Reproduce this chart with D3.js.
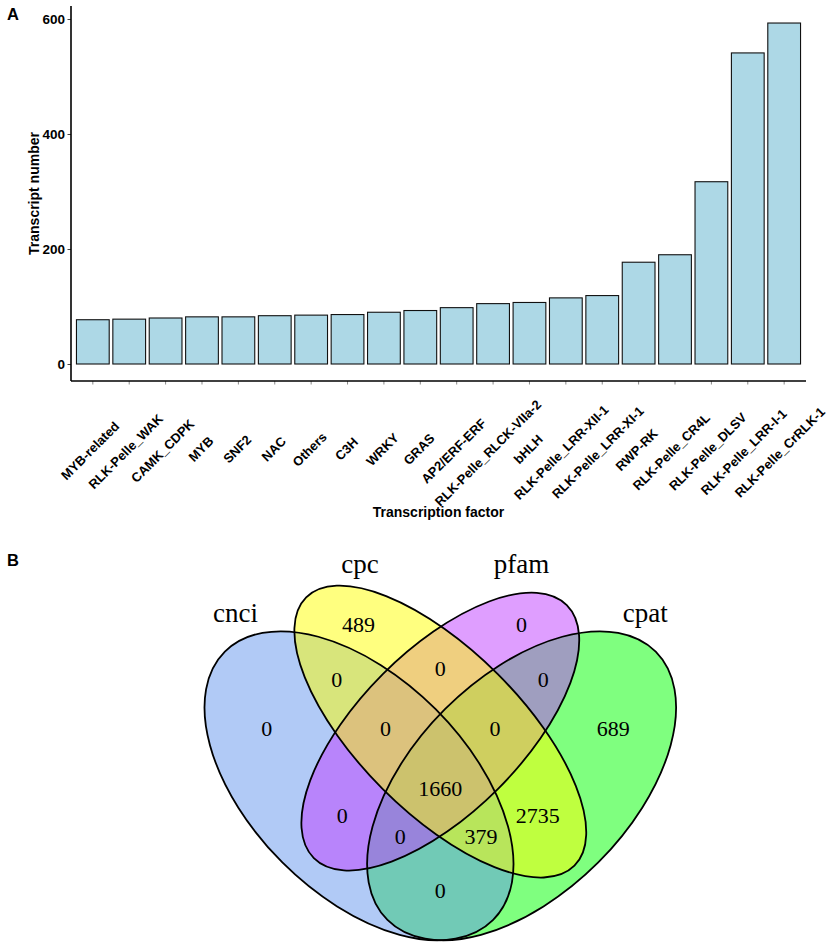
<!DOCTYPE html>
<html>
<head>
<meta charset="utf-8">
<script src="https://d3js.org/d3.v7.min.js"></script>
<style>
    body { margin: 0; background: #fff; }
    .sans { font-family: "Liberation Sans", Arial, sans-serif; font-weight: bold; }
    .serif { font-family: "Liberation Serif", "Times New Roman", serif; }
</style>
</head>
<body>
<div id="chart"></div>
<script>
// Panel A data
const factors = ["MYB-related", "RLK-Pelle_WAK", "CAMK_CDPK", "MYB", "SNF2", "NAC", "Others", "C3H",
    "WRKY", "GRAS", "AP2/ERF-ERF", "RLK-Pelle_RLCK-VIIa-2", "bHLH", "RLK-Pelle_LRR-XII-1",
    "RLK-Pelle_LRR-XI-1", "RWP-RK", "RLK-Pelle_CR4L", "RLK-Pelle_DLSV", "RLK-Pelle_LRR-I-1", "RLK-Pelle_CrRLK-1"];
const counts = [77, 78, 80, 82, 82, 84, 85, 86, 90, 93, 98, 105, 107, 115, 119, 177, 190, 317, 541, 593];
const yTicks = [0, 200, 400, 600];

// Panel B data
const setNames = ["cnci", "cpc", "pfam", "cpat"];
const setColors = ["cornflowerblue", "yellow", "#BF3EFF", "#00FF00"];
// region counts, keyed by membership (cnci, cpc, pfam, cpat)
const regionKeys = ["1000", "0100", "0010", "0001", "1100", "0110", "0011", "1110", "0111",
    "1111", "1010", "0101", "1011", "1101", "1001"];
const regionCounts = [0, 489, 0, 689, 0, 0, 0, 0, 0, 1660, 0, 2735, 0, 379, 0];

// Venn layout (unit square, like VennDiagram's quad layout)
const ellipses = [
    { x: 0.35, y: 0.47, a: 0.35, b: 0.20, rot: 45 },
    { x: 0.50, y: 0.57, a: 0.35, b: 0.15, rot: 45 },
    { x: 0.50, y: 0.57, a: 0.33, b: 0.15, rot: -45 },
    { x: 0.65, y: 0.47, a: 0.35, b: 0.20, rot: -45 }
];
const drawOrder = [3, 0, 2, 1];
const regionPos = [[0.18, 0.576], [0.349, 0.767], [0.650, 0.767], [0.819, 0.576], [0.309, 0.666],
    [0.5, 0.687], [0.69, 0.666], [0.399, 0.576], [0.601, 0.576], [0.5, 0.465], [0.319, 0.416],
    [0.68, 0.416], [0.426, 0.376], [0.575, 0.376], [0.5, 0.276]];
const namePos = [[0.122, 0.773], [0.352, 0.863], [0.65, 0.863], [0.878, 0.773]];

const W = 829, H = 946;
const svg = d3.select("#chart").append("svg")
    .attr("width", W).attr("height", H);
svg.append("rect").attr("width", W).attr("height", H).attr("fill", "#fff");

// ---------- Panel A ----------
const left = 71, right = 806, axisY = 381;
const x = d3.scaleBand()
    .domain(factors)
    .range([left, right])
    .paddingInner(0.1)
    .paddingOuter(0.15);
const y = d3.scaleLinear().domain([0, 600]).range([364, 19]);

svg.append("g")
    .selectAll("rect")
    .data(counts)
    .enter().append("rect")
    .attr("x", (d, i) => x(factors[i]))
    .attr("y", d => y(d))
    .attr("width", x.bandwidth())
    .attr("height", d => y(0) - y(d))
    .attr("fill", "#ADD8E6")
    .attr("stroke", "#111")
    .attr("stroke-width", 1.1);

// y axis
const yAxis = svg.append("g")
    .attr("class", "sans")
    .attr("transform", `translate(${left},0)`)
    .call(d3.axisLeft(y).tickValues(yTicks).tickSize(3.5).tickPadding(2.5));
yAxis.select(".domain").remove();
yAxis.selectAll(".tick line").attr("stroke", "#444");
yAxis.selectAll(".tick text").attr("font-size", 13.5).attr("fill", "#000");
svg.append("line")
    .attr("x1", left).attr("x2", left)
    .attr("y1", y(622.6)).attr("y2", y(-29.6))
    .attr("stroke", "#000").attr("stroke-width", 1.6);

// x axis
const xAxis = svg.append("g")
    .attr("transform", `translate(0,${axisY})`)
    .call(d3.axisBottom(x).tickSize(3.5).tickFormat(""));
xAxis.select(".domain").remove();
xAxis.selectAll(".tick line").attr("stroke", "#888");
svg.append("line")
    .attr("x1", left).attr("x2", right)
    .attr("y1", axisY).attr("y2", axisY)
    .attr("stroke", "#000").attr("stroke-width", 1.4);

// rotated category labels, centred a little toward their start
svg.append("g")
    .attr("class", "sans")
    .selectAll("text")
    .data(factors)
    .enter().append("text")
    .attr("transform", d => `translate(${x(d) + x.bandwidth() / 2},448) rotate(-45)`)
    .attr("text-anchor", "middle")
    .attr("dominant-baseline", "central")
    .attr("font-size", 13)
    .text(d => d)
    .attr("dx", function() { return -0.05 * this.getComputedTextLength(); });

svg.append("text")
    .attr("class", "sans")
    .attr("x", (left + right) / 2)
    .attr("y", 517)
    .attr("text-anchor", "middle")
    .attr("font-size", 14)
    .text("Transcription factor");

svg.append("text")
    .attr("class", "sans")
    .attr("transform", `translate(38.5,${(y(622.6) + y(-29.6)) / 2}) rotate(-90)`)
    .attr("text-anchor", "middle")
    .attr("font-size", 14)
    .text("Transcript number");

svg.append("text").attr("class", "sans")
    .attr("x", 7).attr("y", 19.5).attr("font-size", 16.5).text("A");
svg.append("text").attr("class", "sans")
    .attr("x", 7).attr("y", 565.5).attr("font-size", 16.5).text("B");

// ---------- Panel B ----------
const s = 542;
const vx = d3.scaleLinear().domain([0, 1]).range([440.3 - s / 2, 440.3 + s / 2]);
const vy = d3.scaleLinear().domain([0, 1]).range([785.8 + 0.47 * s, 785.8 - 0.53 * s]);

const venn = svg.append("g");
venn.selectAll("ellipse.fill")
    .data(drawOrder)
    .enter().append("ellipse")
    .attr("class", "fill")
    .attr("cx", i => vx(ellipses[i].x))
    .attr("cy", i => vy(ellipses[i].y))
    .attr("rx", i => vx(ellipses[i].a) - vx(0))
    .attr("ry", i => vx(ellipses[i].b) - vx(0))
    .attr("transform", i => `rotate(${ellipses[i].rot},${vx(ellipses[i].x)},${vy(ellipses[i].y)})`)
    .attr("fill", i => setColors[i])
    .attr("fill-opacity", 0.5);

venn.selectAll("ellipse.line")
    .data(ellipses)
    .enter().append("ellipse")
    .attr("class", "line")
    .attr("cx", d => vx(d.x))
    .attr("cy", d => vy(d.y))
    .attr("rx", d => vx(d.a) - vx(0))
    .attr("ry", d => vx(d.b) - vx(0))
    .attr("transform", d => `rotate(${d.rot},${vx(d.x)},${vy(d.y)})`)
    .attr("fill", "none")
    .attr("stroke", "#000")
    .attr("stroke-width", 1.8);

venn.selectAll("text.count")
    .data(regionCounts)
    .enter().append("text")
    .attr("class", "count serif")
    .attr("x", (d, i) => vx(regionPos[i][0]))
    .attr("y", (d, i) => vy(regionPos[i][1]))
    .attr("dy", "0.34em")
    .attr("text-anchor", "middle")
    .attr("font-size", 22)
    .text(d => d);

venn.selectAll("text.name")
    .data(setNames)
    .enter().append("text")
    .attr("class", "name serif")
    .attr("x", (d, i) => vx(namePos[i][0]))
    .attr("y", (d, i) => vy(namePos[i][1]))
    .attr("text-anchor", "middle")
    .attr("font-size", 27)
    .text(d => d);
</script>
</body>
</html>
